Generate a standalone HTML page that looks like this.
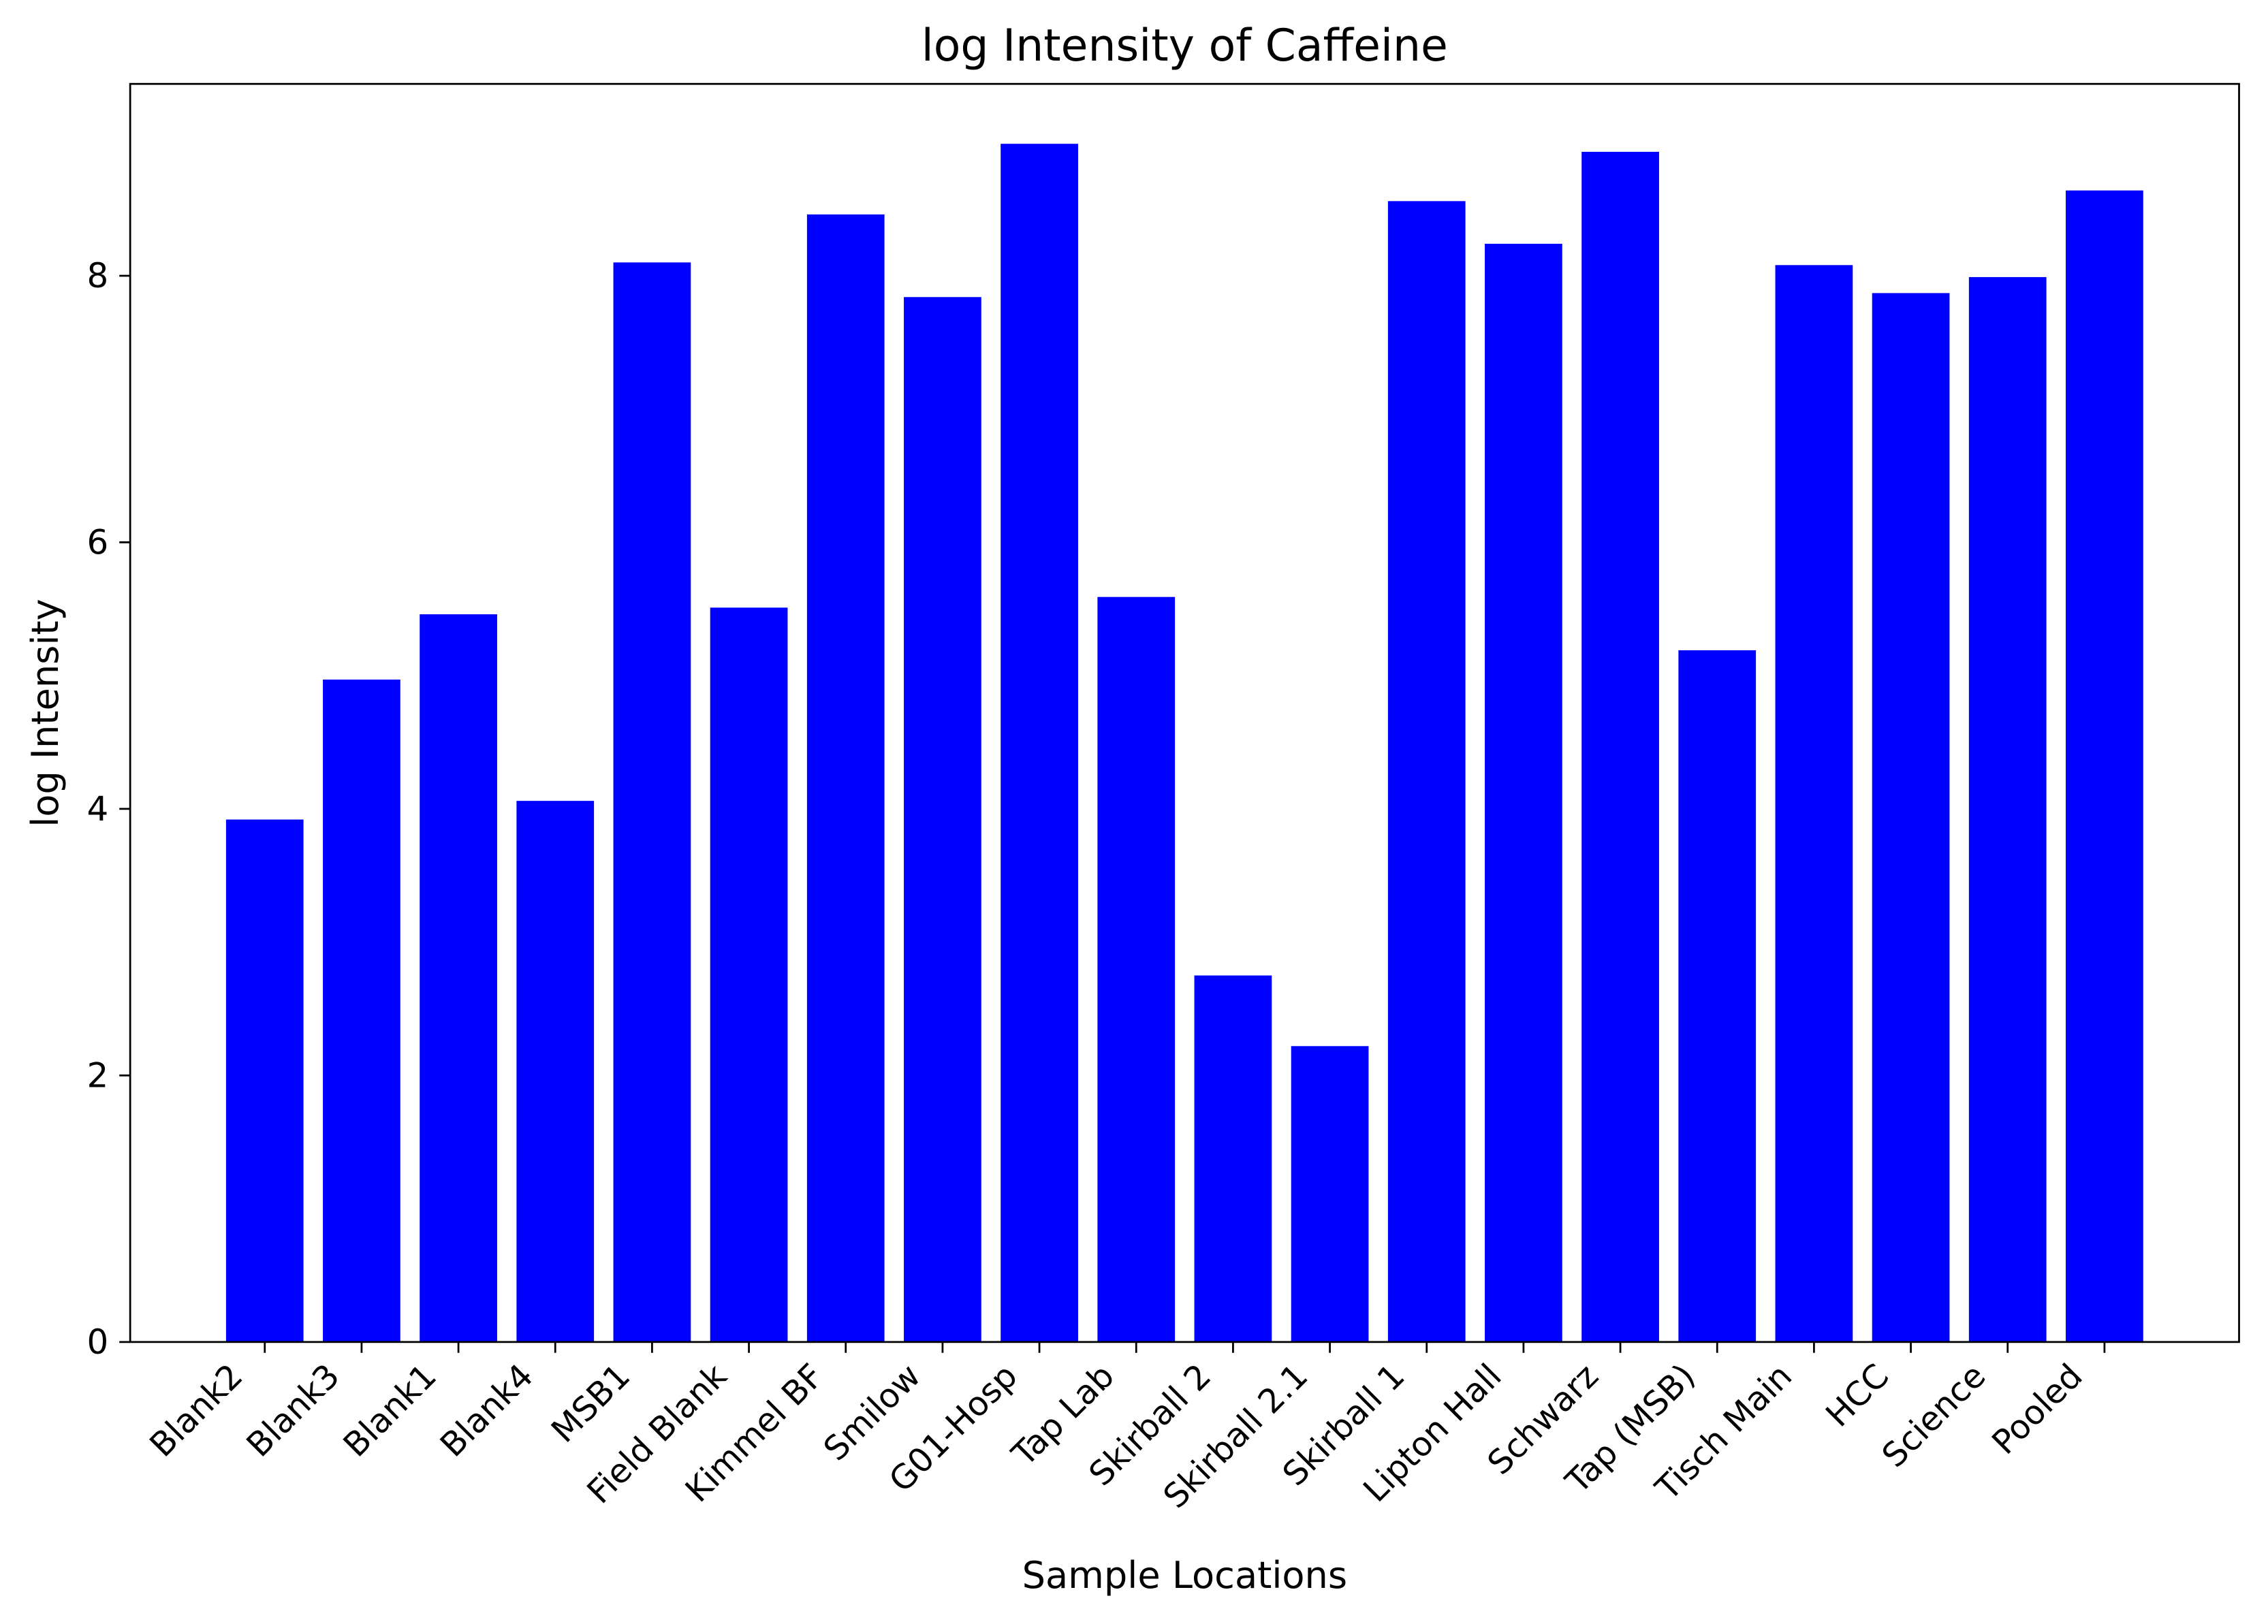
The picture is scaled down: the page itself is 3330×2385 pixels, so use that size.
<!DOCTYPE html>
<html><head><meta charset="utf-8"><style>html,body{margin:0;padding:0;background:#fff}svg{display:block}text{font-family:"DejaVu Sans","Liberation Sans",sans-serif;fill:#000}</style></head>
<body>
<svg id="chart" width="3330" height="2385" viewBox="0 0 1568 1123" xmlns="http://www.w3.org/2000/svg">
<rect x="0" y="0" width="1568" height="1123" fill="#fff"/>
<g id="bars"></g>
<g id="axes"></g>
<text x="819" y="42" text-anchor="middle" font-size="30.5">log Intensity of Caffeine</text>
<text x="819" y="1098" text-anchor="middle" font-size="25.5">Sample Locations</text>
<text transform="translate(40,493) rotate(-90)" text-anchor="middle" font-size="25.5">log Intensity</text>
</svg>
<script>
const categories = ["Blank2","Blank3","Blank1","Blank4","MSB1","Field Blank","Kimmel BF","Smilow","G01-Hosp","Tap Lab","Skirball 2","Skirball 2.1","Skirball 1","Lipton Hall","Schwarz","Tap (MSB)","Tisch Main","HCC","Science","Pooled"];
const values = [3.92,4.97,5.46,4.06,8.10,5.51,8.46,7.84,8.99,5.59,2.75,2.22,8.56,8.24,8.93,5.19,8.08,7.87,7.99,8.64];
const yTicks = [0,2,4,6,8];
const tickLabels = ["0","2","4","6","8"];

const NS = "http://www.w3.org/2000/svg";
const L = 90, R = 1548, T = 58, B = 928;
const n = categories.length;
const maxV = Math.max(...values) * 1.05;
const xmin = -0.4 - 0.05 * (n - 1 + 0.8), xmax = n - 1 + 0.4 + 0.05 * (n - 1 + 0.8);
function xs(i) { return L + (i - xmin) / (xmax - xmin) * (R - L); }
function ys(v) { return B - v / maxV * (B - T); }
const bw = 0.8 * (R - L) / (xmax - xmin);

const bars = document.getElementById('bars');
const axes = document.getElementById('axes');
function mk(tag, attrs, parent) {
  const e = document.createElementNS(NS, tag);
  for (const k in attrs) e.setAttribute(k, attrs[k]);
  parent.appendChild(e); return e;
}
values.forEach((v, i) => {
  const r = mk('rect', {x: xs(i) - bw / 2, y: ys(v), width: bw, height: B - ys(v), fill: '#0000ff'}, bars);
  
  
  const t = mk('line', {x1: xs(i), x2: xs(i), y1: B, y2: B + 7.5, stroke: '#000', 'stroke-width': 1.3}, axes);
  
  
  const lab = mk('text', {transform: `translate(${xs(i) - 14},${B + 25}) rotate(-45)`, 'text-anchor': 'end', 'font-size': 23}, axes);
  lab.textContent = categories[i];
  
  
});
yTicks.forEach((v, i) => {
  const t = mk('line', {x1: L - 7.5, x2: L, y1: ys(v), y2: ys(v), stroke: '#000', 'stroke-width': 1.3}, axes);
  
  
  const lab = mk('text', {x: L - 15, y: ys(v) + 8, 'text-anchor': 'end', 'font-size': 23.5}, axes);
  lab.textContent = tickLabels[i];
  
  
});
const frame = mk('rect', {x: L, y: T, width: R - L, height: B - T, fill: 'none', stroke: '#000', 'stroke-width': 1.3}, axes);


</script>
</body></html>
